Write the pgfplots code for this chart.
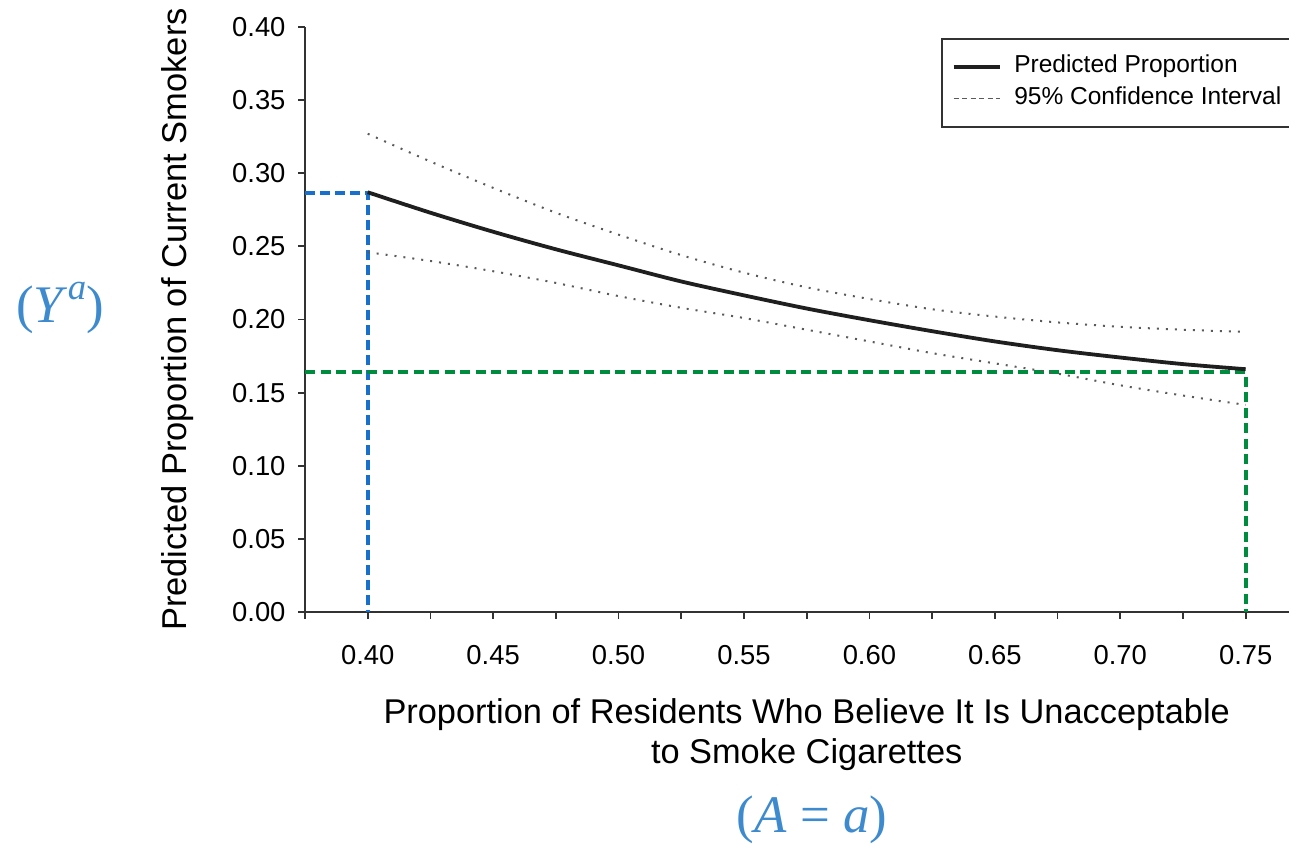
\RequirePackage{fix-cm}
\documentclass[border=0pt]{standalone}
\usepackage{fontspec}
\setmainfont{Liberation Sans}
\newfontfamily\cambria{Liberation Serif}
\usepackage{pgfplots}
\pgfplotsset{compat=1.18}
\definecolor{ablue}{RGB}{22,112,204}
\definecolor{agreen}{RGB}{0,140,62}
\definecolor{tblue}{RGB}{62,138,206}
\definecolor{axgray}{RGB}{50,50,50}
\definecolor{cigray}{RGB}{90,90,90}
\begin{document}
\begin{tikzpicture}[x=1bp,y=1bp]
\useasboundingbox (0,0) rectangle (1289,844);
\begin{axis}[
  at={(305bp,232bp)}, anchor=south west, scale only axis,
  width=1003.4bp, height=585bp,
  xmin=0.375, xmax=0.775, ymin=0, ymax=0.40,
  clip=false,
  axis x line*=bottom, axis y line*=left,
  axis line style={axgray, line width=2.4bp, -},
  tick style={axgray, line width=1.8bp},
  tick align=outside, major tick length=7bp, minor tick length=7bp,
  xtick={0.40,0.45,0.50,0.55,0.60,0.65,0.70,0.75},
  minor xtick={0.375,0.425,0.475,0.525,0.575,0.625,0.675,0.725,0.775},
  ytick={0,0.05,0.10,0.15,0.20,0.25,0.30,0.35,0.40},
  ticklabel style={font=\fontsize{27.5}{32}\selectfont},
  /pgf/number format/.cd, fixed, fixed zerofill, precision=2, assume math mode=true,
  /pgfplots/.cd,
  xticklabel style={anchor=center, yshift=-36bp},
  yticklabel style={anchor=east, xshift=-9bp},
  xlabel={Proportion of Residents Who Believe It Is Unacceptable\\to Smoke Cigarettes},
  xlabel style={at={(axis description cs:0.5,-0.2100)}, anchor=center, align=center, font=\fontsize{34.5}{40}\selectfont},
  ylabel={Predicted Proportion of Current Smokers},
  ylabel style={at={(axis description cs:-0.1266,0.5)}, anchor=center, font=\fontsize{34.6}{40}\selectfont},
  legend style={at={(axis description cs:0.6338,0.9812)}, anchor=north west,
    draw=axgray, line width=1.8bp, font=\fontsize{24.6}{28}\selectfont,
    inner xsep=10bp, inner ysep=13bp, row sep=2bp, column sep=10bp,
    nodes={inner sep=3bp, text height=18bp, text depth=6bp}},
  legend cell align=left,
]
% reference lines
\addplot[ablue, line width=4bp, dash pattern=on 10bp off 5bp, forget plot]
  coordinates {(0.375,0.2866) (0.40,0.2866) (0.40,0)};
\addplot[agreen, line width=4bp, dash pattern=on 10bp off 5.5bp, forget plot]
  coordinates {(0.375,0.164) (0.75,0.164) (0.75,0)};
% predicted proportion
\addplot[black!88, line width=3.8bp, smooth,
  legend image code/.code={\draw[black!88, line width=3.4bp] (11bp,0bp) -- (57bp,0bp);}]
  coordinates {
  (0.400,0.287) (0.425,0.273) (0.450,0.260) (0.475,0.248) (0.500,0.237)
  (0.525,0.226) (0.550,0.2165) (0.575,0.2075) (0.600,0.1995) (0.625,0.192)
  (0.650,0.185) (0.675,0.179) (0.700,0.174) (0.725,0.1695) (0.750,0.166)};
\addlegendentry{Predicted Proportion}
% upper CI
\addplot[cigray, line width=2bp, dash pattern=on 2bp off 7bp, smooth,
  legend image code/.code={\draw[cigray, line width=1.2bp, dash pattern=on 5bp off 3.5bp] (11bp,0bp) -- (57bp,0bp);}]
  coordinates {
  (0.400,0.327) (0.425,0.308) (0.450,0.290) (0.475,0.273) (0.500,0.258)
  (0.525,0.244) (0.550,0.232) (0.575,0.222) (0.600,0.214) (0.625,0.207)
  (0.650,0.202) (0.675,0.198) (0.700,0.195) (0.725,0.193) (0.750,0.1915)};
\addlegendentry{95\% Confidence Interval}
% lower CI
\addplot[cigray, line width=2bp, dash pattern=on 2bp off 7bp, smooth, forget plot]
  coordinates {
  (0.400,0.246) (0.425,0.240) (0.450,0.233) (0.475,0.225) (0.500,0.216)
  (0.525,0.208) (0.550,0.201) (0.575,0.193) (0.600,0.185) (0.625,0.177)
  (0.650,0.170) (0.675,0.163) (0.700,0.155) (0.725,0.148) (0.750,0.1416)};
\end{axis}
\node[tblue, font=\fontsize{53}{60}\cambria] at (60,536) {(\textit{Y}\raisebox{0.42em}{\fontsize{37}{40}\selectfont\textit{a}})};
\node[tblue, font=\fontsize{53}{60}\cambria] at (812,24) {(\textit{A}\ =\ \textit{a})};
\end{tikzpicture}
\end{document}
